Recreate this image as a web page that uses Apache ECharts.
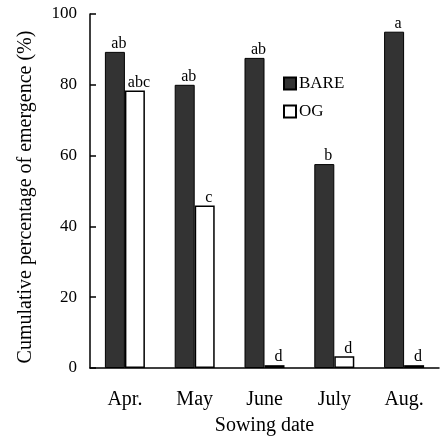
<!DOCTYPE html>
<html><head><meta charset="utf-8">
<script src="https://cdn.jsdelivr.net/npm/echarts@6/dist/echarts.min.js"></script>
<style>html,body{margin:0;padding:0;background:#fff}#c{width:441px;height:441px}</style>
</head><body><div id="c"></div>
<script>
const categories = ['Apr.', 'May', 'June', 'July', 'Aug.'];
const bareValues = [89.3, 80.0, 87.6, 57.6, 95.0];
const ogValues = [78.4, 45.9, 0.8, 3.3, 0.8];
const bareLetters = ['ab', 'ab', 'ab', 'b', 'a'];
const ogLetters = ['abc', 'c', 'd', 'd', 'd'];
const yTicks = [0, 20, 40, 60, 80, 100];

const font = 'Liberation Serif, Times New Roman, serif';
const chart = echarts.init(document.getElementById('c'));
chart.setOption({
  animation: false,
  backgroundColor: '#fff',
  grid: {left: 90, right: 2, top: 14, bottom: 70},
  legend: {
    left: 283, top: 75, orient: 'vertical', itemWidth: 12, itemHeight: 12, itemGap: 11,
    padding: 0, icon: 'rect',
    textStyle: {fontFamily: font, fontSize: 17, color: '#000', padding: [0,0,0,-2]},
    data: ['BARE', 'OG']
  },
  xAxis: {
    type: 'category', data: categories,
    axisLine: {lineStyle: {color: '#000', width: 1.5}},
    axisTick: {inside: true, length: 5, lineStyle: {color: '#000', width: 1.5}},
    axisLabel: {fontFamily: font, fontSize: 20, color: '#000', margin: 22},
    name: 'Sowing date', nameLocation: 'middle', nameGap: 48,
    nameTextStyle: {fontFamily: font, fontSize: 20, color: '#000'}
  },
  yAxis: {
    type: 'value', min: 0, max: 100, interval: 20,
    splitLine: {show: false},
    axisLine: {show: true, lineStyle: {color: '#000', width: 1.5}},
    axisTick: {show: true, inside: true, length: 6, lineStyle: {color: '#000', width: 1.5}},
    axisLabel: {fontFamily: font, fontSize: 17, color: '#000', margin: 13,
      formatter: v => yTicks.includes(v) ? String(v) : ''},
    name: 'Cumulative percentage of emergence (%)', nameLocation: 'middle', nameGap: 54,
    nameTextStyle: {fontFamily: font, fontSize: 20, color: '#000', padding: [0, 12, 0, 0]}
  },
  series: [
    {
      name: 'BARE', type: 'bar', data: bareValues, barWidth: 20, barGap: '0%',
      itemStyle: {color: '#333333', borderColor: '#000', borderWidth: 1},
      label: {show: true, position: 'top', distance: 0, offset: [4, 0], fontFamily: font, fontSize: 16, color: '#000',
        formatter: p => bareLetters[p.dataIndex]}
    },
    {
      name: 'OG', type: 'bar', data: ogValues, barWidth: 20,
      itemStyle: {color: '#fff', borderColor: '#000', borderWidth: 1.5},
      label: {show: true, position: 'top', distance: 0, offset: [4, 0], fontFamily: font, fontSize: 16, color: '#000',
        formatter: p => ogLetters[p.dataIndex]}
    }
  ]
});
</script></body></html>
